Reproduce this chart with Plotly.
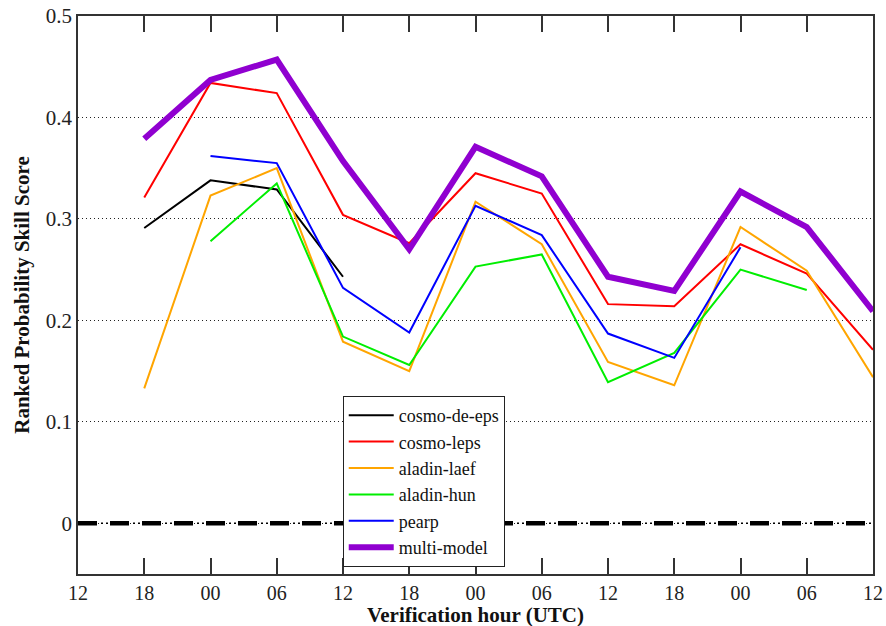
import plotly.graph_objects as go

# ---- data ----
x_pos = list(range(13))
x_labels = ["12", "18", "00", "06", "12", "18", "00", "06", "12", "18", "00", "06", "12"]
y_ticks = [0, 0.1, 0.2, 0.3, 0.4, 0.5]
y_tick_labels = ["0", "0.1", "0.2", "0.3", "0.4", "0.5"]

cosmo_de_eps = [None, 0.291, 0.338, 0.329, 0.243, None, None, None, None, None, None, None, None]
cosmo_leps = [None, 0.321, 0.434, 0.424, 0.304, 0.276, 0.345, 0.325, 0.216, 0.214, 0.275, 0.246, 0.171]
aladin_laef = [None, 0.133, 0.323, 0.350, 0.179, 0.150, 0.317, 0.275, 0.159, 0.136, 0.292, 0.249, 0.144]
aladin_hun = [None, None, 0.278, 0.335, 0.184, 0.156, 0.253, 0.265, 0.139, 0.168, 0.250, 0.230, None]
pearp = [None, None, 0.362, 0.355, 0.232, 0.188, 0.313, 0.284, 0.187, 0.163, 0.272, None, None]
multi_model = [None, 0.379, 0.437, 0.457, 0.357, 0.270, 0.371, 0.342, 0.243, 0.229, 0.327, 0.292, 0.209]

series = [
    ("cosmo-de-eps", cosmo_de_eps, "#000000", 2),
    ("cosmo-leps", cosmo_leps, "#ff0000", 2),
    ("aladin-laef", aladin_laef, "#ffa500", 2),
    ("aladin-hun", aladin_hun, "#00ee00", 2),
    ("pearp", pearp, "#0000ff", 2),
    ("multi-model", multi_model, "#9000d0", 6),
]

FONT = "'Liberation Serif', 'Times New Roman', serif"

fig = go.Figure()
for name, vals, color, w in series:
    fig.add_trace(go.Scatter(
        x=x_pos, y=vals, mode="lines", name=name,
        line=dict(color=color, width=w),
        connectgaps=False,
    ))

# zero reference line: dash-dot-dot
fig.add_shape(type="line", xref="paper", yref="y", x0=0, x1=1, y0=0, y1=0,
              line=dict(color="black", width=1.5, dash="19px,4px,2px,3px,2px,2px"), layer="above")
fig.add_shape(type="line", xref="paper", yref="y", x0=0, x1=1, y0=0, y1=0,
              line=dict(color="black", width=4.5, dash="19px,13px"), layer="above")

# x-axis title as a positioned annotation
fig.add_annotation(
    text="<b>Verification hour (UTC)</b>", xref="paper", yref="paper",
    x=0.5, y=-0.074, xanchor="center", yanchor="middle", showarrow=False,
    font=dict(family=FONT, size=21, color="#111111"),
)

fig.update_layout(
    width=886, height=626,
    margin=dict(l=78, r=13, t=16, b=52, autoexpand=False),
    paper_bgcolor="white", plot_bgcolor="white",
    font=dict(family=FONT, color="#111111", size=20),
    showlegend=True,
    legend=dict(
        x=0.333, y=0.319, xanchor="left", yanchor="top",
        bordercolor="#222222", borderwidth=1, bgcolor="white",
        font=dict(family=FONT, size=18, color="#111111"),
        tracegroupgap=0, itemwidth=45,
    ),
)

fig.update_xaxes(
    range=[0, 12], tickmode="array", tickvals=x_pos, ticktext=x_labels,
    ticks="inside", ticklen=16, tickwidth=1.5, tickcolor="#333333",
    showline=True, linecolor="#333333", linewidth=1.5, mirror="ticks",
    showgrid=False, zeroline=False, automargin=False,
    tickfont=dict(family=FONT, size=20, color="#222222"),
)
fig.update_yaxes(
    range=[-0.05, 0.5], tickmode="array", tickvals=y_ticks, ticktext=y_tick_labels,
    ticks="", showline=True, linecolor="#333333", linewidth=1.5, mirror=True,
    showgrid=True, gridcolor="#222222", gridwidth=1, griddash="1px,3px",
    zeroline=False, automargin=False,
    tickfont=dict(family=FONT, size=21, color="#222222"),
    title=dict(text="<b>Ranked Probability Skill Score</b>", font=dict(family=FONT, size=21, color="#111111"), standoff=10),
)

fig.write_html("out.html")
